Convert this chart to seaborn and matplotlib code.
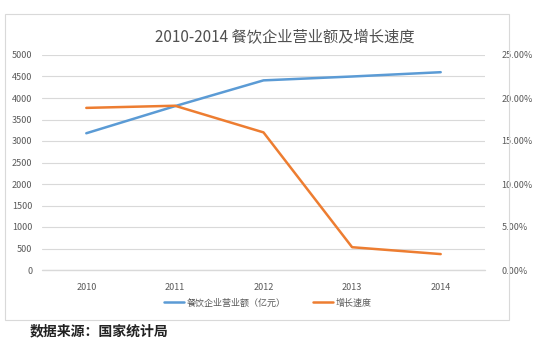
import matplotlib
matplotlib.use("Agg")
import matplotlib.pyplot as plt
from matplotlib.patches import Rectangle
from matplotlib.lines import Line2D
from matplotlib.ticker import FuncFormatter
import pandas as pd
import seaborn as sns

# data
years = ["2010", "2011", "2012", "2013", "2014"]
revenue = [3180, 3810, 4410, 4500, 4600]
growth = [18.85, 19.1, 16.0, 2.65, 1.85]

sns.set_style("white")
plt.rcParams['font.family'] = ['Noto Sans CJK SC', 'DejaVu Sans']

blue = "#5B9BD5"
orange = "#ED7D31"
grey = "#595959"
gridc = "#D9D9D9"

df = pd.DataFrame({"year": years, "revenue": revenue, "growth": growth})
df["x"] = range(len(years))

fig = plt.figure(figsize=(5.5, 3.51), dpi=100)
fig.patches.append(Rectangle((5 / 550, 1 - 320 / 351), 504 / 550, 306 / 351,
                             transform=fig.transFigure, fill=False,
                             edgecolor=gridc, linewidth=0.8))

ax = fig.add_axes([42 / 550, 1 - 270 / 351, 443 / 550, 215 / 351])
ax2 = ax.twinx()

sns.lineplot(data=df, x="x", y="revenue", ax=ax, color=blue, linewidth=1.8)
sns.lineplot(data=df, x="x", y="growth", ax=ax2, color=orange, linewidth=1.8)

ax.set_xlim(-0.5, 4.5)
ax.set_ylim(0, 5000)
ax.set_yticks(range(0, 5001, 500))
ax2.set_ylim(0, 25)
ax2.set_yticks([0, 5, 10, 15, 20, 25])
ax2.yaxis.set_major_formatter(FuncFormatter(lambda v, p: "%.2f%%" % v))
ax.set_xticks(df["x"])
ax.set_xticklabels(years)
ax.grid(axis="y", color=gridc, linewidth=0.8)
ax.set_axisbelow(True)
for a in (ax, ax2):
    for s in a.spines.values():
        s.set_visible(False)
    a.set_xlabel("")
    a.set_ylabel("")
    a.tick_params(length=0, labelsize=6.5, labelcolor=grey)
ax.axhline(0, color=gridc, linewidth=1.0, clip_on=False, zorder=0)
ax.tick_params(axis="y", pad=7)
ax.tick_params(axis="x", pad=9)
ax2.tick_params(axis="y", pad=12)

fig.text(285 / 550, 1 - 37 / 351, "2010-2014 餐饮企业营业额及增长速度",
         ha="center", va="center", fontsize=11, color="#505050")

handles = [Line2D([], [], color=blue, linewidth=1.8),
           Line2D([], [], color=orange, linewidth=1.8)]
fig.legend(handles, ["餐饮企业营业额（亿元）", "增长速度"], loc="center",
           bbox_to_anchor=(268 / 550, 1 - 303 / 351), ncol=2, frameon=False,
           fontsize=6.5, labelcolor=grey, handlelength=2.2, handletextpad=0.3,
           columnspacing=3)

fig.text(30 / 550, 1 - 331 / 351, "数据来源：国家统计局", ha="left", va="center",
         fontsize=10, fontweight="bold", color="#222222")

fig.savefig("out.png", dpi=100)
plt.close()
